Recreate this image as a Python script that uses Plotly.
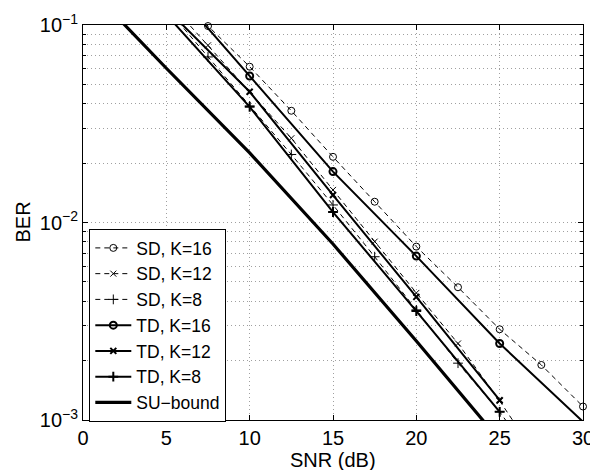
import plotly.graph_objects as go

# ---------------- data ----------------
snr_sd = [5, 7.5, 10, 12.5, 15, 17.5, 20, 22.5, 25, 27.5, 30]
ber_sd16 = [0.159, 0.0988, 0.0615, 0.0368, 0.0215, 0.01274, 0.00755, 0.0047, 0.00288, 0.0019, 0.00117]
snr_sd_k = [5, 7.5, 10, 12.5, 15, 17.5, 20, 22.5, 25, 27.5]
ber_sd12 = [0.135, 0.0789, 0.0458, 0.0267, 0.01462, 0.0080, 0.0044, 0.00244, 0.00125, 0.000605]
ber_sd8 = [0.122, 0.0689, 0.0389, 0.0221, 0.01227, 0.00671, 0.00361, 0.00194, 0.0011, 0.00056]

snr_td16 = [5, 10, 15, 20, 25, 30]
ber_td16 = [0.168, 0.0552, 0.0181, 0.00676, 0.00244, 0.00098]
snr_td = [5, 10, 15, 20, 25]
ber_td12 = [0.121, 0.0459, 0.01377, 0.0042, 0.00126]
ber_td8 = [0.113, 0.0385, 0.0113, 0.00356, 0.0011]

snr_su = [0, 5, 10, 15, 20, 25]
ber_su = [0.166, 0.0604, 0.0225, 0.00778, 0.00251, 0.00079]

x_ticks = [0, 5, 10, 15, 20, 25, 30]
y_ticks = [1e-3, 1e-2, 1e-1]
y_ticktext = ["10<sup>\u22123</sup>", "10<sup>\u22122</sup>", "10<sup>\u22121</sup>"]
y_minor = [m * 10.0 ** e for e in (-3, -2) for m in range(2, 10)]

YMIN, YMAX = 1e-3, 1e-1
FONT = "Liberation Sans, Arial, Helvetica, sans-serif"
GRID = "#a0a0a0"
GDASH = "1px,3px"

series = [
    ("SD, K=16", snr_sd, ber_sd16, "circle-open", 1, "5px,4px", 7, 1),
    ("SD, K=12", snr_sd_k, ber_sd12, "x-thin-open", 1, "5px,4px", 6, 1),
    ("SD, K=8", snr_sd_k, ber_sd8, "cross-thin-open", 1, "5px,4px", 7, 1),
    ("TD, K=16", snr_td16, ber_td16, "circle-open", 2, "solid", 7, 2),
    ("TD, K=12", snr_td, ber_td12, "x-thin-open", 2, "solid", 6, 2),
    ("TD, K=8", snr_td, ber_td8, "cross-thin-open", 2, "solid", 7, 2),
    ("SU\u2212bound", snr_su, ber_su, None, 3.2, "solid", 0, 0),
]

fig = go.Figure()
for name, xs, ys, sym, lw, dash, ms, mlw in series:
    # the curve itself (clipped to the axes)
    fig.add_trace(go.Scatter(
        x=xs, y=ys, mode="lines", showlegend=False, legendgroup=name,
        line=dict(color="black", width=lw, dash=dash), hoverinfo="skip"))
    if sym is not None:
        # markers for points inside the axes, drawn whole (like MATLAB)
        mx = [x for x, y in zip(xs, ys) if YMIN <= y <= YMAX]
        my = [y for y in ys if YMIN <= y <= YMAX]
        fig.add_trace(go.Scatter(
            x=mx, y=my, mode="markers", showlegend=False, legendgroup=name,
            cliponaxis=False,
            marker=dict(symbol=sym, size=ms, color="black",
                        line=dict(color="black", width=mlw))))
    # legend entry
    fig.add_trace(go.Scatter(
        x=[None], y=[None], name=name, legendgroup=name,
        mode="lines+markers" if sym else "lines",
        line=dict(color="black", width=lw, dash=dash),
        marker=dict(symbol=sym or "circle", size=ms, color="black",
                    line=dict(color="black", width=mlw))))

# the page body has an 8px margin, so the figure is sized to fit the window
fig.update_layout(
    width=590, height=462,
    margin=dict(l=75, r=15, t=17, b=50),
    paper_bgcolor="white", plot_bgcolor="white",
    font=dict(family=FONT, size=20, color="black"),
    showlegend=True,
    legend=dict(x=0.0126, y=0.4835, xanchor="left", yanchor="top",
                bgcolor="white", bordercolor="black", borderwidth=1,
                font=dict(family=FONT, size=17.5, color="black"),
                tracegroupgap=0, itemwidth=36),
    xaxis=dict(range=[0, 30], tickmode="array", tickvals=x_ticks,
               ticks="inside", ticklen=5, tickcolor="black",
               showline=True, linecolor="black", linewidth=1, mirror="ticks",
               showgrid=True, gridcolor=GRID, griddash=GDASH, gridwidth=1,
               zeroline=False, automargin=False,
               tickfont=dict(family=FONT, size=20)),
    yaxis=dict(type="log", range=[-3, -1], tickmode="array",
               tickvals=y_ticks, ticktext=y_ticktext,
               ticks="inside", ticklen=5, tickcolor="black",
               showline=True, linecolor="black", linewidth=1, mirror="ticks",
               showgrid=True, gridcolor=GRID, griddash=GDASH, gridwidth=1,
               zeroline=False, automargin=False,
               minor=dict(tickmode="array", tickvals=y_minor, ticks="inside",
                          ticklen=3, tickcolor="black", showgrid=True,
                          gridcolor=GRID, griddash=GDASH, gridwidth=1),
               tickfont=dict(family=FONT, size=20)),
    annotations=[
        dict(text="SNR (dB)", xref="paper", yref="paper", x=0.5, y=-0.101,
             xanchor="center", yanchor="middle", showarrow=False,
             font=dict(family=FONT, size=20)),
        dict(text="BER", xref="paper", yref="paper", x=-0.122, y=0.5,
             xanchor="center", yanchor="middle", showarrow=False,
             textangle=-90, font=dict(family=FONT, size=20)),
    ],
)

fig.write_html("out.html")
